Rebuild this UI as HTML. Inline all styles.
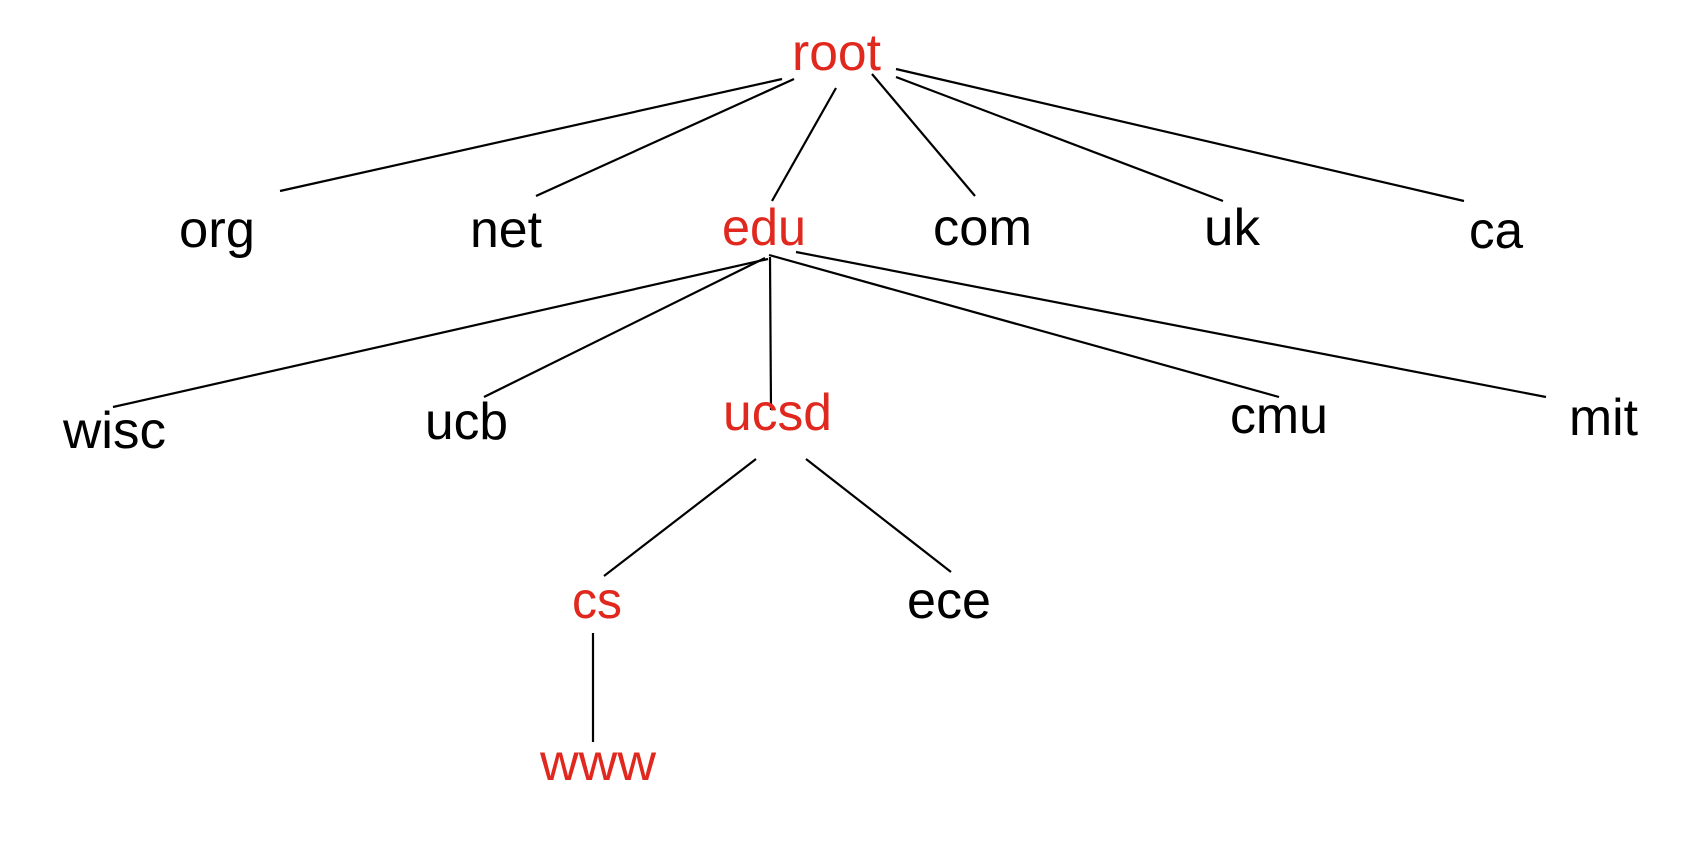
<!DOCTYPE html>
<html><head><meta charset="utf-8"><style>html,body{margin:0;padding:0;background:#fff}svg{display:block}</style></head>
<body>
<svg width="1708" height="856" viewBox="0 0 1708 856" xmlns="http://www.w3.org/2000/svg">
<g stroke="#000" stroke-width="2.2" fill="none">
<line x1="782" y1="79" x2="280" y2="191"/>
<line x1="794" y1="79" x2="536" y2="196"/>
<line x1="836" y1="88" x2="772" y2="201"/>
<line x1="872" y1="74" x2="975" y2="196"/>
<line x1="896" y1="77" x2="1223" y2="201"/>
<line x1="896" y1="69" x2="1464" y2="201"/>
<line x1="768" y1="259" x2="113" y2="407"/>
<line x1="765" y1="258" x2="484" y2="397"/>
<line x1="770" y1="257" x2="771" y2="410"/>
<line x1="769" y1="255" x2="1279" y2="397"/>
<line x1="796" y1="252" x2="1546" y2="397"/>
<line x1="756" y1="459" x2="604" y2="576"/>
<line x1="806" y1="459" x2="951" y2="572"/>
<line x1="593" y1="633" x2="593" y2="742"/>
</g>
<g font-family="Liberation Sans, Arial, sans-serif" font-size="52" fill="#000">
<text x="792" y="70" fill="#e0281e" textLength="89" lengthAdjust="spacingAndGlyphs">root</text>
<text x="179" y="247" textLength="76" lengthAdjust="spacingAndGlyphs">org</text>
<text x="470" y="247" textLength="72" lengthAdjust="spacingAndGlyphs">net</text>
<text x="722" y="245" fill="#e0281e" textLength="84" lengthAdjust="spacingAndGlyphs">edu</text>
<text x="933" y="245" textLength="99" lengthAdjust="spacingAndGlyphs">com</text>
<text x="1204" y="245" textLength="56" lengthAdjust="spacingAndGlyphs">uk</text>
<text x="1469" y="248" textLength="54" lengthAdjust="spacingAndGlyphs">ca</text>
<text x="63" y="448" textLength="103" lengthAdjust="spacingAndGlyphs">wisc</text>
<text x="425" y="439" textLength="83" lengthAdjust="spacingAndGlyphs">ucb</text>
<text x="723" y="430" fill="#e0281e" textLength="109" lengthAdjust="spacingAndGlyphs">ucsd</text>
<text x="1230" y="433" textLength="98" lengthAdjust="spacingAndGlyphs">cmu</text>
<text x="1569" y="435" textLength="69" lengthAdjust="spacingAndGlyphs">mit</text>
<text x="572" y="618" fill="#e0281e" textLength="50" lengthAdjust="spacingAndGlyphs">cs</text>
<text x="907" y="618" textLength="84" lengthAdjust="spacingAndGlyphs">ece</text>
<text x="540" y="780" fill="#e0281e" textLength="116" lengthAdjust="spacingAndGlyphs">www</text>
</g>
</svg>
</body></html>
